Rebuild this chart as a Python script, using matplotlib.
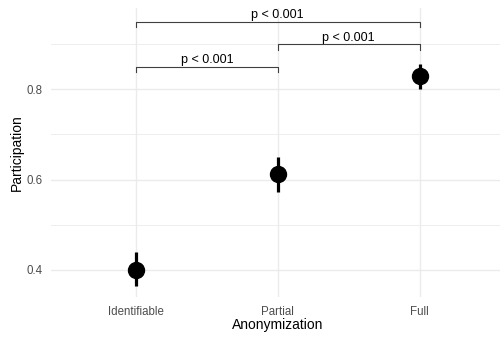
import matplotlib.pyplot as plt
import numpy as np

plt.rcParams['font.family'] = ['Liberation Sans', 'DejaVu Sans']

# group means with 95% intervals
groups = ['Identifiable', 'Partial', 'Full']
means = [0.400, 0.613, 0.829]
ci_low = [0.365, 0.573, 0.800]
ci_high = [0.440, 0.650, 0.856]

# pairwise comparisons: (from, to, bracket height, label)
pairs = [(0, 1), (1, 2), (0, 2)]
pair_heights = [0.85, 0.90, 0.95]
pair_labels = ['p < 0.001', 'p < 0.001', 'p < 0.001']

fig = plt.figure(figsize=(5.0, 3.37), dpi=100)
ax = fig.add_axes([0.1016, 0.12, 0.908, 0.856])

x = np.arange(len(groups))

# gridlines, minimal theme
for yv in [0.4, 0.6, 0.8]:
    ax.axhline(yv, color='#EBEBEB', lw=1.0, zorder=0)
for yv in [0.5, 0.7, 0.9]:
    ax.axhline(yv, color='#EBEBEB', lw=0.6, zorder=0)
for xv in x:
    ax.axvline(xv, color='#EBEBEB', lw=1.0, zorder=0)

ax.vlines(x, ci_low, ci_high, color='black', lw=2.3, zorder=3)
ax.plot(x, means, 'o', color='black', ms=11.5, zorder=4)

tick_len = 0.012
for (a, b), h, lab in zip(pairs, pair_heights, pair_labels):
    ax.plot([x[a], x[a], x[b], x[b]], [h - tick_len, h, h, h - tick_len],
            color='#404040', lw=0.8, zorder=2)
    ax.text((x[a] + x[b]) / 2, h + 0.001, lab, ha='center', va='bottom',
            fontsize=9, color='black')

ax.set_xlim(-0.6, 2.6)
ax.set_ylim(0.341, 0.98)
ax.set_xticks(x)
ax.set_xticklabels(groups)
ax.set_yticks([0.4, 0.6, 0.8])
ax.set_yticklabels(['0.4', '0.6', '0.8'])
ax.tick_params(length=0, labelsize=8.3, labelcolor='#4D4D4D')
ax.tick_params(axis='x', pad=6.5)
ax.tick_params(axis='y', pad=6)
for s in ax.spines.values():
    s.set_visible(False)

ax.set_xlabel('Anonymization', fontsize=10, labelpad=0.5)
ax.set_ylabel('Participation', fontsize=10, labelpad=2)

fig.savefig('out.png', dpi=100)
